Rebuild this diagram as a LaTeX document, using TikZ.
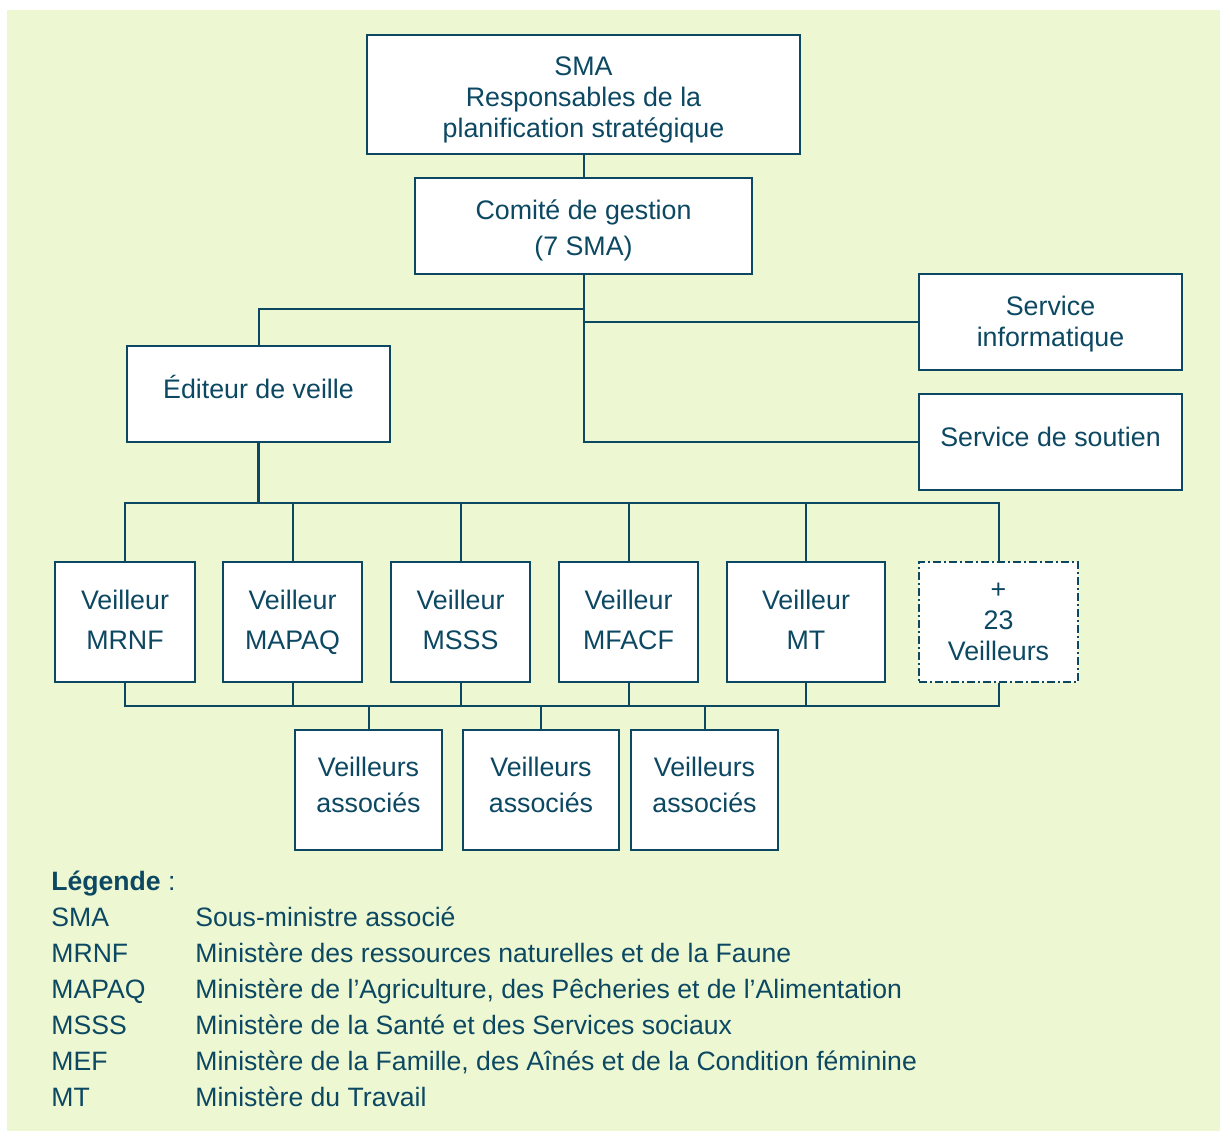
\documentclass[tikz,border=0pt]{standalone}
\usepackage{fontspec}
\setmainfont{Liberation Sans}
\definecolor{fond}{RGB}{237,248,211}
\definecolor{bleu}{RGB}{12,72,98}

\begin{document}
\begin{tikzpicture}[x=0.5pt,y=-0.5pt,
  boite/.style={draw=bleu,fill=white,line width=1pt,inner sep=0pt,align=center,text=bleu},
  veilleur/.style={boite,minimum width=69.5pt,minimum height=60pt,text depth=2pt,font=\fontsize{13.4}{20}\selectfont},
  associe/.style={boite,minimum width=73.5pt,minimum height=60pt,text depth=5pt,font=\fontsize{13.4}{18}\selectfont},
  service/.style={boite,minimum width=131.5pt,minimum height=48pt,font=\fontsize{13.4}{15.5}\selectfont},
  lien/.style={draw=bleu,line width=1pt},
  pointille/.style={dash pattern=on 4pt off 1.5pt on 1pt off 1.5pt},
  legende/.style={anchor=base west,inner sep=0pt,text=bleu,font=\fontsize{13.3}{16}\selectfont}]

\useasboundingbox (0,0) rectangle (1220,1131);
\fill[fond] (7,10) rectangle (1220,1131);

\node[boite,minimum width=216.5pt,minimum height=59.5pt,text height=45.8pt,font=\fontsize{13.4}{15.5}\selectfont]
  (sma) at (583.5,94.5) {SMA\\Responsables de la\\planification stratégique};
\node[boite,minimum width=168.5pt,minimum height=48pt,text height=32.5pt,font=\fontsize{13.4}{18}\selectfont]
  (comite) at (583.5,226) {Comité de gestion\\(7 SMA)};
\node[service,text height=27.5pt] (info) at (1050.5,322) {Service\\informatique};
\node[service,text depth=5pt] (soutien) at (1050.5,442) {Service de soutien};
\node[service,text depth=7pt] (editeur) at (258.5,394) {Éditeur de veille};

\node[veilleur,minimum width=70pt] (mrnf) at (125,622) {Veilleur\\MRNF};
\node[veilleur] (mapaq) at (292.5,622) {Veilleur\\MAPAQ};
\node[veilleur] (msss) at (460.5,622) {Veilleur\\MSSS};
\node[veilleur] (mfacf) at (628.5,622) {Veilleur\\MFACF};
\node[veilleur,minimum width=79pt] (mt) at (806,622) {Veilleur\\MT};
\node[veilleur,minimum width=79.5pt,text depth=0pt,pointille,font=\fontsize{13.4}{15.5}\selectfont]
  (plus) at (998.5,622) {+\\23\\Veilleurs};

\node[associe] (asso1) at (368.5,790) {Veilleurs\\associés};
\node[associe,minimum width=78pt] (asso2) at (541,790) {Veilleurs\\associés};
\node[associe] (asso3) at (704.5,790) {Veilleurs\\associés};

\draw[lien] (sma.south) -- (comite.north);
\draw[lien] (editeur.north) -- ++(0,-36) -| (comite.south);
\draw[lien] (comite.south) |- (info.west);
\draw[lien] (comite.south) |- (soutien.west);

\draw[lien,line width=1.5pt] (editeur.south) -- ++(0,60) coordinate (haut);
\draw[lien] (mrnf.north) |- (haut) -| (plus.north);
\foreach \v in {mapaq,msss,mfacf,mt}
  \draw[lien] (\v.north) -- (\v.north |- haut);

\draw[lien] (mrnf.south) -- ++(0,23) coordinate (bas) -| (plus.south);
\foreach \v in {mapaq,msss,mfacf,mt}
  \draw[lien] (\v.south) -- (\v.south |- bas);
\foreach \a in {asso1,asso2,asso3}
  \draw[lien] (\a.north) -- (\a.north |- bas);

\node[legende] (titre) at (51,890) {\textbf{Légende} :};
\foreach \abbr/\nom [count=\i] in {SMA/Sous-ministre associé,
    MRNF/Ministère des ressources naturelles et de la Faune,
    MAPAQ/Ministère de l’Agriculture{,} des Pêcheries et de l’Alimentation,
    MSSS/Ministère de la Santé et des Services sociaux,
    MEF/{Ministère de la Famille, des Aînés et de la Condition féminine},
    MT/Ministère du Travail}{
  \node[legende] (abbr\i) at (51,890+36*\i) {\abbr};
  \node[legende] (nom\i) at (195,890+36*\i) {\nom};
}
\end{tikzpicture}
\end{document}
